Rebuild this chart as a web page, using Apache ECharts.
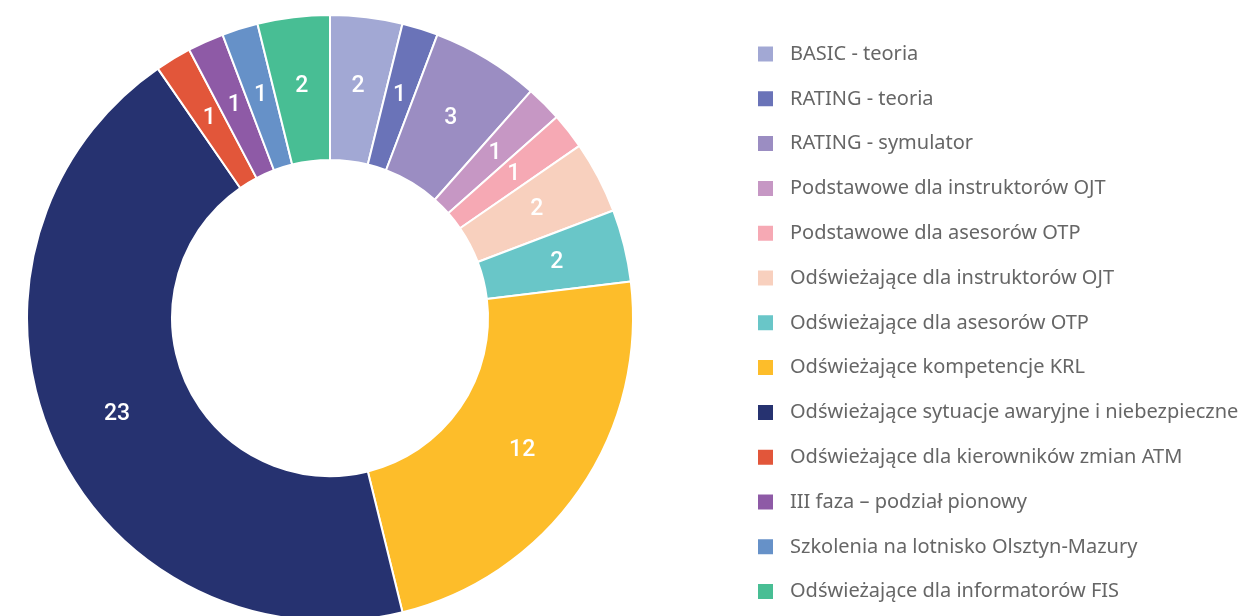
<!DOCTYPE html>
<html>
<head>
<meta charset="utf-8">
<script src="https://cdn.jsdelivr.net/npm/echarts@6/dist/echarts.min.js"></script>
<style>
  html, body { margin: 0; padding: 0; background: #fff; }
  #main { width: 1240px; height: 616px; }
</style>
</head>
<body>
<div id="main"></div>
<script>
var categories = [
    'BASIC - teoria',
    'RATING - teoria',
    'RATING - symulator',
    'Podstawowe dla instruktorów OJT',
    'Podstawowe dla asesorów OTP',
    'Odświeżające dla instruktorów OJT',
    'Odświeżające dla asesorów OTP',
    'Odświeżające kompetencje KRL',
    'Odświeżające sytuacje awaryjne i niebezpieczne',
    'Odświeżające dla kierowników zmian ATM',
    'III faza – podział pionowy',
    'Szkolenia na lotnisko Olsztyn-Mazury',
    'Odświeżające dla informatorów FIS'
];
var values = [2, 1, 3, 1, 1, 2, 2, 12, 23, 1, 1, 1, 2];
var colors = [
    '#a2a8d4', '#6a73b8', '#9b8dc2', '#c697c4', '#f6a9b4', '#f8d0be', '#69c6c8',
    '#fdbd2a', '#263270', '#e2563a', '#8e5aa6', '#6691c8', '#48be94'
];

var myChart = echarts.init(document.getElementById('main'));

var pieData = categories.map(function (name, i) {
    return { name: name, value: values[i] };
});

var option = {
    color: colors,
    animation: false,
    legend: {
        orient: 'vertical',
        left: 756,
        top: 44,
        height: 600,
        padding: 0,
        icon: 'rect',
        itemWidth: 17,
        itemHeight: 17,
        itemGap: 24.8,
        textStyle: {
            fontFamily: 'Noto Sans',
            fontSize: 20,
            lineHeight: 20,
            color: '#666',
            padding: [0, 0, 0, 11]
        },
        data: categories
    },
    series: [
        {
            type: 'pie',
            center: [330, 318],
            radius: [158, 303],
            startAngle: 90,
            clockwise: true,
            avoidLabelOverlap: false,
            itemStyle: {
                borderColor: '#fff',
                borderWidth: 2
            },
            label: {
                show: true,
                position: 'inside',
                formatter: '{c}',
                color: '#fff',
                fontFamily: 'Roboto',
                fontWeight: 500,
                fontSize: 23
            },
            labelLine: { show: false },
            data: pieData
        }
    ]
};

myChart.setOption(option);
</script>
</body>
</html>
